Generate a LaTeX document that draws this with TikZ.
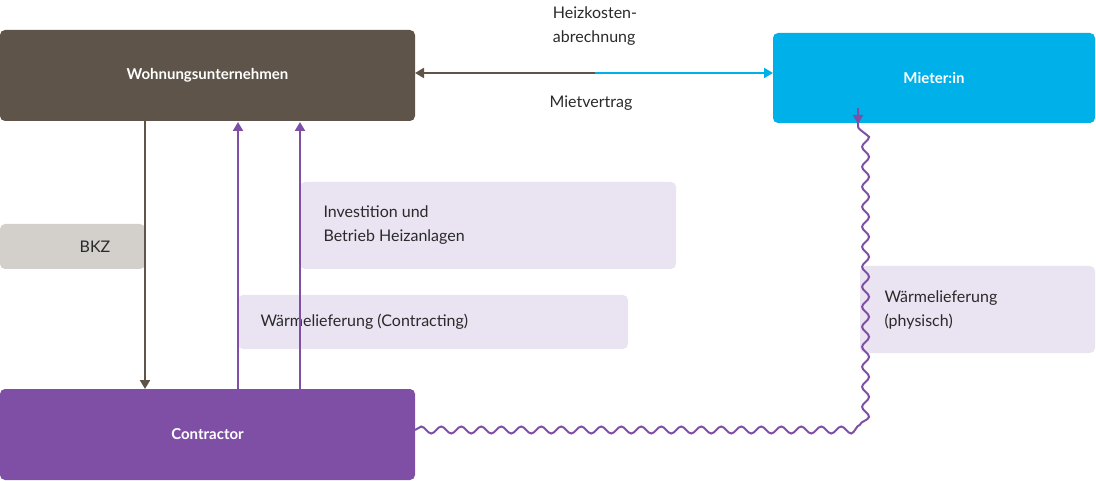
\documentclass[tikz,border=0pt]{standalone}
\usepackage{fontspec}
\setmainfont{Lato}
\usetikzlibrary{decorations.pathmorphing,arrows.meta}
\definecolor{wu}{HTML}{5F5449}
\definecolor{mi}{HTML}{00B0E8}
\definecolor{co}{HTML}{7F4FA5}
\definecolor{bk}{HTML}{D3D0CC}
\definecolor{lv}{HTML}{EAE3F2}
\definecolor{tx}{HTML}{2A2A2A}
\tikzset{
 box/.style={rounded corners=5pt,draw=none,text=white,font=\fontsize{15}{18}\selectfont\bfseries,inner sep=0pt},
 lab/.style={rounded corners=5pt,draw=none,fill=lv,text=tx,font=\fontsize{16}{24}\selectfont,inner sep=0pt,align=left},
 txt/.style={text=tx,font=\fontsize{16}{24}\selectfont,align=left},
 arr/.style={line width=2pt,-{Triangle[length=9pt,width=10pt]}}
}
\begin{document}
\begin{tikzpicture}[x=1pt,y=-1pt]
\useasboundingbox (0,0) rectangle (1096,481);
\fill[box,fill=wu] (0,30) rectangle (415,121);
\node[box] (wu) at (207.5,75.5) {Wohnungsunternehmen};
\fill[box,fill=mi] (773,33) rectangle (1095,123);
\node[box] (mi) at (934,78) {Mieter:in};
\fill[box,fill=co] (0,389) rectangle (415,480);
\node[box] (co) at (207.5,434.5) {Contractor};
\fill[rounded corners=5pt,fill=bk] (0,224) rectangle (145,269);
\node[txt] (bkz) at (95,246.5) {BKZ};
\fill[rounded corners=5pt,fill=lv] (300,182) rectangle (676,269);
\node[txt,anchor=west] (inv) at (320,225.5) {Investition und\\Betrieb Heizanlagen};
\fill[rounded corners=5pt,fill=lv] (238,295) rectangle (628,349);
\node[txt,anchor=west] (wc) at (257,322) {Wärmelieferung (Contracting)};
\fill[rounded corners=5pt,fill=lv] (860,266) rectangle (1095,353);
\node[txt,anchor=west] (wp) at (881,309.5) {Wärmelieferung\\(physisch)};
\coordinate (a1) at (145,121); \coordinate (a2) at (145,389);
\draw[arr,wu] (a1) -- (a2);
\coordinate (b1) at (238,389); \coordinate (b2) at (238,122);
\draw[arr,co] (b1) -- (b2);
\coordinate (c1) at (300,389); \coordinate (c2) at (300,122);
\draw[arr,co] (c1) -- (c2);
\coordinate (m) at (595,73);
\draw[line width=2pt,wu,{Triangle[length=9pt,width=10pt]}-] (415,73) -- (m);
\draw[line width=2pt,mi,-{Triangle[length=9pt,width=10pt]}] (m) -- (773,73);
\node[txt,align=left] (hk) at (595,26) {Heizkosten-\\abrechnung};
\node[txt] (mv) at (591,103) {Mietvertrag};
\coordinate (w0) at (415,430);
\coordinate (w1) at (858,430);
\coordinate (w2) at (858,124);
\draw[co,line width=2pt,decorate,decoration={snake,amplitude=3.5pt,segment length=20pt,post length=14pt}] (w0) -- (850,430) to[out=0,in=270] (858,418) -- ([yshift=14pt]w2);
\draw[arr,co] ([yshift=16pt]w2) -- (w2);
\end{tikzpicture}
\end{document}
